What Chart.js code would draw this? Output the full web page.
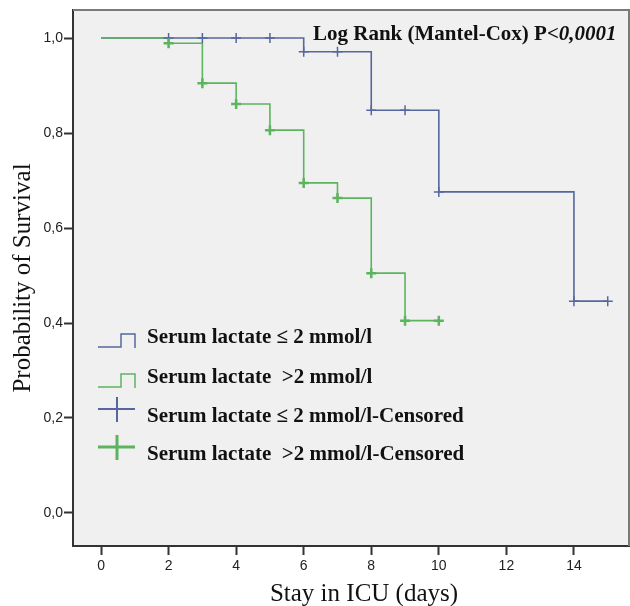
<!DOCTYPE html>
<html>
<head>
<meta charset="utf-8">
<script src="https://cdn.jsdelivr.net/npm/chart.js@4.4.1/dist/chart.umd.min.js"></script>
<style>
  html, body { margin: 0; padding: 0; background: #fff; }
  #wrap { width: 630px; height: 606px; }
</style>
</head>
<body>
<div id="wrap"><canvas id="kmChart" width="630" height="606"></canvas></div>
<script>
// ─── DATA ───
const lowTimes = [0, 6, 8, 10, 14, 15];
const lowSurv = [1.0, 0.971, 0.848, 0.676, 0.446, 0.446];
const highTimes = [0, 2, 3, 4, 5, 6, 7, 8, 9, 10];
const highSurv = [1.0, 0.989, 0.905, 0.861, 0.806, 0.695, 0.663, 0.505, 0.405, 0.405];

const lowCensTimes = [2, 3, 4, 5, 6, 7, 8, 9, 10, 14, 15];
const lowCensSurv = [1.0, 1.0, 1.0, 1.0, 0.971, 0.971, 0.848, 0.848, 0.676, 0.446, 0.446];
const highCensTimes = [2, 3, 4, 5, 6, 7, 8, 9, 10];
const highCensSurv = [0.989, 0.905, 0.861, 0.806, 0.695, 0.663, 0.505, 0.405, 0.405];

const xTicks = [0, 2, 4, 6, 8, 10, 12, 14];
const yTicks = [0, 0.2, 0.4, 0.6, 0.8, 1.0];

const seriesLabels = [
    'Serum lactate \u2264 2 mmol/l',
    'Serum lactate  >2 mmol/l',
    'Serum lactate \u2264 2 mmol/l-Censored',
    'Serum lactate  >2 mmol/l-Censored'
];
const xTitle = 'Stay in ICU (days)';
const yTitle = 'Probability of Survival';

const BLUE = '#56679f';
const GREEN = '#5cb45f';
const SERIF = '"Liberation Serif", "Times New Roman", serif';
const SANS = '"Liberation Sans", Arial, sans-serif';

function toPoints(xs, ys) {
    return xs.map((x, i) => ({ x: x, y: ys[i] }));
}

// ─── PLOT BACKGROUND + FRAME ───
const plotFrame = {
    id: 'plotFrame',
    beforeDraw(chart) {
        const a = chart.chartArea;
        const ctx = chart.ctx;
        ctx.save();
        ctx.fillStyle = '#f0f0f0';
        ctx.fillRect(a.left, a.top, a.right - a.left, a.bottom - a.top);
        ctx.restore();
    },
    afterDraw(chart) {
        const a = chart.chartArea;
        const ctx = chart.ctx;
        ctx.save();
        ctx.strokeStyle = '#7a7a7a';
        ctx.lineWidth = 2;
        ctx.beginPath();
        ctx.moveTo(a.left, a.top);
        ctx.lineTo(a.right, a.top);
        ctx.lineTo(a.right, a.bottom);
        ctx.stroke();

        // x axis title, a bit right of the plot centre as in the original
        ctx.fillStyle = '#111';
        ctx.font = '25px ' + SERIF;
        ctx.textAlign = 'center';
        ctx.textBaseline = 'alphabetic';
        ctx.fillText(xTitle, 364, 601);
        ctx.restore();
    }
};

// ─── LOG RANK NOTE ───
const logRankNote = {
    id: 'logRankNote',
    afterDraw(chart) {
        const ctx = chart.ctx;
        ctx.save();
        ctx.fillStyle = '#111';
        ctx.textBaseline = 'alphabetic';
        ctx.font = 'bold 21px ' + SERIF;
        const head = 'Log Rank (Mantel-Cox) P<';
        ctx.fillText(head, 313, 40);
        const w = ctx.measureText(head).width;
        ctx.font = 'italic bold 21px ' + SERIF;
        ctx.fillText('0,0001', 313 + w, 40);
        ctx.restore();
    }
};

// ─── LEGEND INSIDE THE PLOT ───
const kmLegend = {
    id: 'kmLegend',
    afterDraw(chart) {
        const ctx = chart.ctx;
        const rows = [343, 383, 422, 460];
        ctx.save();
        chart.data.datasets.forEach((ds, i) => {
            const base = rows[i];
            ctx.strokeStyle = ds.borderColor;
            if (ds.showLine) {
                ctx.lineWidth = 1.5;
                ctx.beginPath();
                ctx.moveTo(98, base + 4);
                ctx.lineTo(121, base + 4);
                ctx.lineTo(121, base - 9);
                ctx.lineTo(135, base - 9);
                ctx.lineTo(135, base + 5);
                ctx.stroke();
            } else {
                ctx.lineWidth = ds.pointBorderWidth + 0.5;
                ctx.beginPath();
                ctx.moveTo(98, base - 13);
                ctx.lineTo(135, base - 13);
                ctx.moveTo(117, base - 25);
                ctx.lineTo(117, base);
                ctx.stroke();
            }
            ctx.fillStyle = '#111';
            ctx.font = 'bold 21px ' + SERIF;
            ctx.fillText(ds.label, 147, base);
        });
        ctx.restore();
    }
};

// ─── CREATE THE CHART ───
const ctx = document.getElementById('kmChart').getContext('2d');
const kmChart = new Chart(ctx, {
    type: 'scatter',
    data: {
        datasets: [
            {
                label: seriesLabels[0],
                data: toPoints(lowTimes, lowSurv),
                showLine: true,
                stepped: 'before',
                borderColor: BLUE,
                borderWidth: 1.6,
                pointRadius: 0,
                order: 4
            },
            {
                label: seriesLabels[1],
                data: toPoints(highTimes, highSurv),
                showLine: true,
                stepped: 'before',
                borderColor: GREEN,
                borderWidth: 1.6,
                pointRadius: 0,
                order: 3
            },
            {
                label: seriesLabels[2],
                data: toPoints(lowCensTimes, lowCensSurv),
                showLine: false,
                borderColor: BLUE,
                pointStyle: 'cross',
                pointRadius: 5,
                pointBorderWidth: 1.5,
                pointBorderColor: BLUE,
                order: 2
            },
            {
                label: seriesLabels[3],
                data: toPoints(highCensTimes, highCensSurv),
                showLine: false,
                borderColor: GREEN,
                pointStyle: 'cross',
                pointRadius: 5,
                pointBorderWidth: 2.5,
                pointBorderColor: GREEN,
                order: 1
            }
        ]
    },
    options: {
        responsive: false,
        animation: false,
        layout: { autoPadding: false, padding: { top: 10, right: 1, left: 0, bottom: 0 } },
        plugins: {
            legend: { display: false },
            tooltip: { enabled: false }
        },
        scales: {
            x: {
                type: 'linear',
                min: -0.83,
                max: 15.63,
                afterBuildTicks: s => { s.ticks = xTicks.map(v => ({ value: v })); },
                afterFit: s => { s.height = 60; },
                ticks: {
                    color: '#222',
                    font: { family: SANS, size: 14 },
                    padding: 3,
                    maxRotation: 0,
                    callback: v => String(v)
                },
                grid: { drawOnChartArea: false, drawTicks: true, tickLength: 9, tickWidth: 2, tickColor: '#333' },
                border: { display: true, color: '#333', width: 2 }
            },
            y: {
                type: 'linear',
                min: -0.0695,
                max: 1.059,
                afterBuildTicks: s => { s.ticks = yTicks.map(v => ({ value: v })); },
                afterFit: s => { s.width = 73; },
                ticks: {
                    color: '#222',
                    font: { family: SANS, size: 14 },
                    padding: 1,
                    callback: v => v.toFixed(1).replace('.', ',')
                },
                grid: { drawOnChartArea: false, drawTicks: true, tickLength: 9, tickWidth: 2, tickColor: '#333' },
                border: { display: true, color: '#333', width: 2 },
                title: {
                    display: true,
                    text: yTitle,
                    color: '#111',
                    font: { family: SERIF, size: 25 },
                    padding: { top: 8, bottom: 0 }
                }
            }
        }
    },
    plugins: [plotFrame, logRankNote, kmLegend]
});
</script>
</body>
</html>
